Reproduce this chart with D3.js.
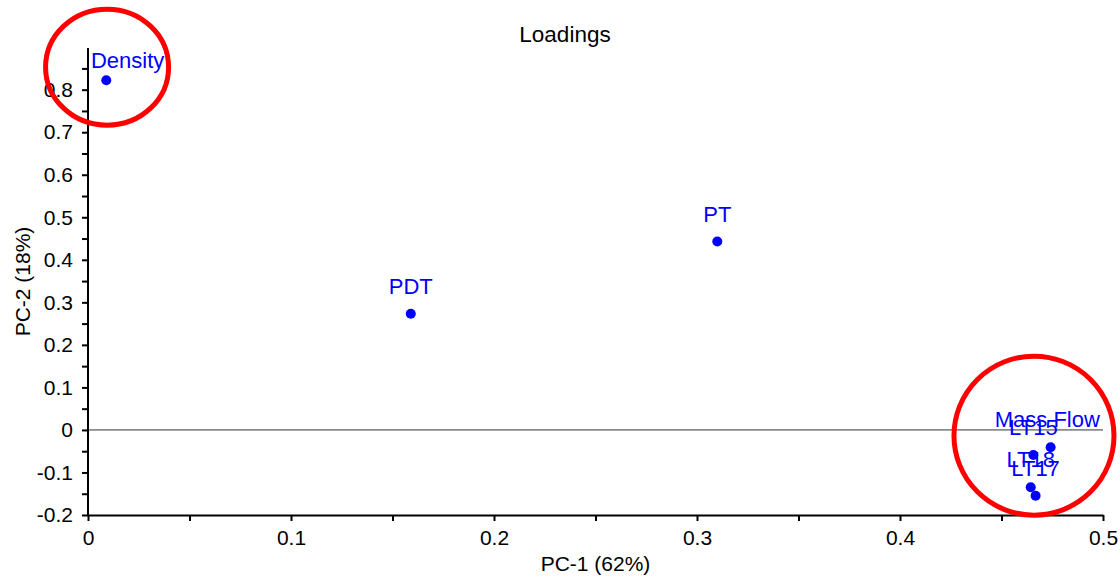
<!DOCTYPE html>
<html>
<head>
<meta charset="utf-8">
<script src="https://cdn.jsdelivr.net/npm/d3@7"></script>
<style>
  html, body { margin: 0; padding: 0; background: #fff; }
  svg { display: block; font-family: "Liberation Sans", Arial, Helvetica, sans-serif; }
</style>
</head>
<body>
<svg id="chart" width="1120" height="579"></svg>
<script>
// PCA loadings: variable names with their PC-1 / PC-2 loadings
const variables = ["Density", "PDT", "PT", "Mass Flow", "LT15", "LT18", "LT17"];
const pc1 = [0.0090, 0.159, 0.310, 0.4742, 0.4657, 0.4644, 0.4668];
const pc2 = [0.822, 0.273, 0.443, -0.0407, -0.0588, -0.1348, -0.1546];

// Axis ticks (labelled majors, unlabelled minors every 0.05)
const xTicks = [0, 0.05, 0.1, 0.15, 0.2, 0.25, 0.3, 0.35, 0.4, 0.45, 0.5];
const xTickLabels = ["0", "", "0.1", "", "0.2", "", "0.3", "", "0.4", "", "0.5"];
const yTicks = [-0.2, -0.15, -0.1, -0.05, 0, 0.05, 0.1, 0.15, 0.2, 0.25, 0.3, 0.35, 0.4, 0.45, 0.5, 0.55, 0.6, 0.65, 0.7, 0.75, 0.8, 0.85];
const yTickLabels = ["-0.2", "", "-0.1", "", "0", "", "0.1", "", "0.2", "", "0.3", "", "0.4", "", "0.5", "", "0.6", "", "0.7", "", "0.8", ""];

// Highlight rings drawn around groups of loadings (centre in data units)
const ringCentersX = [0.0094, 0.466];
const ringCentersY = [0.853, -0.0134];

const chartTitle = "Loadings";
const xTitle = "PC-1 (62%)";
const yTitle = "PC-2 (18%)";

const svg = d3.select("#chart");
const plot = { left: 88, right: 1103, top: 48, bottom: 515 };
const FONT = 21;
const LABEL_FONT = 22;
const TITLE_FONT = 22.5;
const BLUE = "#0000ff";

const x = d3.scaleLinear().domain([0, 0.5]).range([plot.left, plot.right]);
const y = d3.scaleLinear().domain([-0.2, 0.898]).range([plot.bottom, plot.top]);

// zero reference line
svg.append("line")
  .attr("x1", x(0)).attr("x2", x(0.5))
  .attr("y1", y(0)).attr("y2", y(0))
  .attr("stroke", "#8a8a8a").attr("stroke-width", 1.8);

// axes
const xAxis = d3.axisBottom(x)
  .tickValues(xTicks)
  .tickFormat((d, i) => xTickLabels[i])
  .tickSizeInner(6).tickSizeOuter(0).tickPadding(9);
const yAxis = d3.axisLeft(y)
  .tickValues(yTicks)
  .tickFormat((d, i) => yTickLabels[i])
  .tickSizeInner(6).tickSizeOuter(0).tickPadding(9);

const gx = svg.append("g").attr("transform", `translate(0,${plot.bottom})`).call(xAxis);
const gy = svg.append("g").attr("transform", `translate(${plot.left},0)`).call(yAxis);
[gx, gy].forEach(g => {
  g.attr("font-family", null).attr("font-size", null);
  g.selectAll("path.domain").attr("stroke", "#000").attr("stroke-width", 2);
  g.selectAll(".tick line").attr("stroke", "#000").attr("stroke-width", 2);
  g.selectAll(".tick text").attr("fill", "#000").style("font-size", FONT + "px");
});
// y axis line runs up to the top of the plot area
gy.select("path.domain").attr("d", `M0,${plot.bottom}V${plot.top}`);

// points
const pts = variables.map((name, i) => ({ name, px: x(pc1[i]), py: y(pc2[i]) }));
svg.append("g").selectAll("circle")
  .data(pts).join("circle")
  .attr("cx", d => d.px).attr("cy", d => d.py)
  .attr("r", 5).attr("fill", BLUE);

// labels above each point, kept inside the plot area
const pad = 3;
const labels = svg.append("g").selectAll("text")
  .data(pts).join("text")
  .attr("x", d => d.px).attr("y", d => d.py - 20)
  .attr("text-anchor", "middle")
  .attr("fill", BLUE)
  .style("font-size", LABEL_FONT + "px")
  .text(d => d.name);
labels.each(function (d) {
  const b = this.getBBox();
  let dx = 0, dy = 0;
  if (b.x < plot.left + pad) dx = plot.left + pad - b.x;
  if (b.x + b.width > plot.right - pad) dx = plot.right - pad - (b.x + b.width);
  if (b.y < plot.top) dy = plot.top - b.y;
  d3.select(this).attr("x", d.px + dx).attr("y", d.py - 20 + dy);
});

// highlight rings
const ringRx = [61.5, 80];
const ringRy = [58, 79.5];
svg.append("g").selectAll("ellipse")
  .data(ringCentersX).join("ellipse")
  .attr("cx", (d, i) => x(d)).attr("cy", (d, i) => y(ringCentersY[i]))
  .attr("rx", (d, i) => ringRx[i]).attr("ry", (d, i) => ringRy[i])
  .attr("fill", "none").attr("stroke", "#ff0000").attr("stroke-width", 5);

// titles
svg.append("text")
  .attr("x", 565).attr("y", 42)
  .attr("text-anchor", "middle").attr("fill", "#000")
  .style("font-size", TITLE_FONT + "px")
  .text(chartTitle);
svg.append("text")
  .attr("x", (plot.left + plot.right) / 2).attr("y", 571)
  .attr("text-anchor", "middle").attr("fill", "#000")
  .style("font-size", FONT + "px")
  .text(xTitle);
svg.append("text")
  .attr("transform", `translate(30,${(plot.top + plot.bottom) / 2}) rotate(-90)`)
  .attr("text-anchor", "middle").attr("fill", "#000")
  .style("font-size", FONT + "px")
  .text(yTitle);
</script>
</body>
</html>
